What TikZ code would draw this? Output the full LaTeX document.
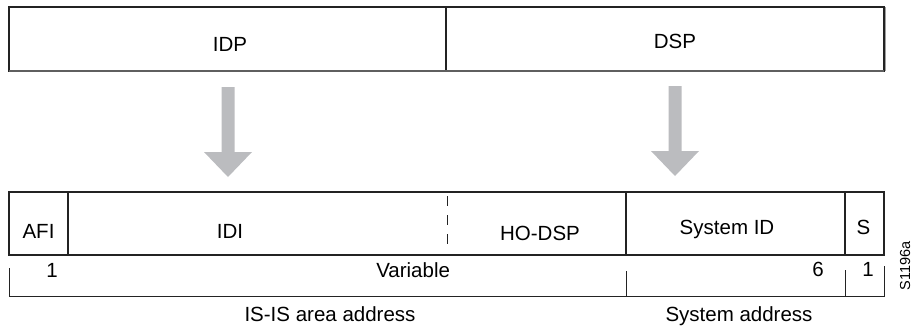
\documentclass[tikz,border=0pt]{standalone}
\usepackage{fontspec}
\setmainfont{Liberation Sans}
\definecolor{arrowgray}{RGB}{187,188,191}
\definecolor{linecol}{RGB}{35,35,35}
\definecolor{shadecol}{RGB}{95,95,95}
\begin{document}
\begin{tikzpicture}[x=1pt,y=-1pt,
  field/.style={draw=linecol, line width=1.1pt, inner sep=0pt, outer sep=0pt, anchor=north west},
  lbl/.style={anchor=base, inner sep=0pt, outer sep=0pt, font=\fontsize{20.5}{24}\selectfont},
  bracket/.style={draw=linecol, line width=1pt},
  blockarrow/.style={fill=arrowgray, draw=none}]
\useasboundingbox (0,0) rectangle (913,327);

% top box
\node[field, minimum width=437pt, minimum height=64pt] (idp) at (9,7) {};
\node[field, minimum width=438pt, minimum height=64pt] (dsp) at (446,7) {};
\draw[shadecol, line width=2pt] (idp.south west) -- (dsp.south east);
\draw[shadecol!60, line width=0.8pt] ([xshift=1.2pt]dsp.north east) -- ([xshift=1.2pt]dsp.south east);
\node[lbl] (idpl) at (230,51) {IDP};
\node[lbl] (dspl) at (675,48) {DSP};

% arrows
\fill[blockarrow] (221.5,87) -- (234.5,87) -- (234.5,152) -- (252,152) -- (228,177) -- (204,152) -- (221.5,152) -- cycle;
\fill[blockarrow] (668.5,86) -- (681.5,86) -- (681.5,151) -- (699,151) -- (675,176) -- (651,151) -- (668.5,151) -- cycle;

% bottom box
\node[field, minimum width=59pt, minimum height=63pt] (afi) at (9,192) {};
\node[field, minimum width=558pt, minimum height=63pt] (idiho) at (68,192) {};
\node[field, minimum width=219pt, minimum height=63pt] (sysid) at (626,192) {};
\node[field, minimum width=39pt, minimum height=63pt] (sel) at (845,192) {};
\draw[linecol, line width=1pt, dash pattern=on 10pt off 9pt] (447,196) -- (447,252);

\node[lbl] (afil) at (38.5,238) {AFI};
\node[lbl] (idil) at (230,238) {IDI};
\node[lbl] (hol) at (540,240) {HO-DSP};
\node[lbl] (sysl) at (727,234) {System ID};
\node[lbl] (sl) at (863.5,234) {S};

% bracket
\coordinate (bl) at (9,268);
\coordinate (br) at (884,266);
\draw[bracket] (bl) -- (9,296) -- (884,296) -- (br);
\draw[bracket] (626,271) -- (626,296);
\draw[bracket] (845,270) -- (845,296);

\node[lbl] (n1) at (52,277) {1};
\node[lbl, anchor=base east] (nvar) at (450,277) {Variable};
\node[lbl] (n6) at (818,276) {6};
\node[lbl] (n1b) at (868,276) {1};

\node[lbl] (isis) at (330,321) {IS-IS area address};
\node[lbl] (sysaddr) at (739,321) {System address};

\node[inner sep=0pt, rotate=90, font=\fontsize{14.5}{17}\selectfont] (tag) at (905,266) {S1196a};
\end{tikzpicture}
\end{document}
